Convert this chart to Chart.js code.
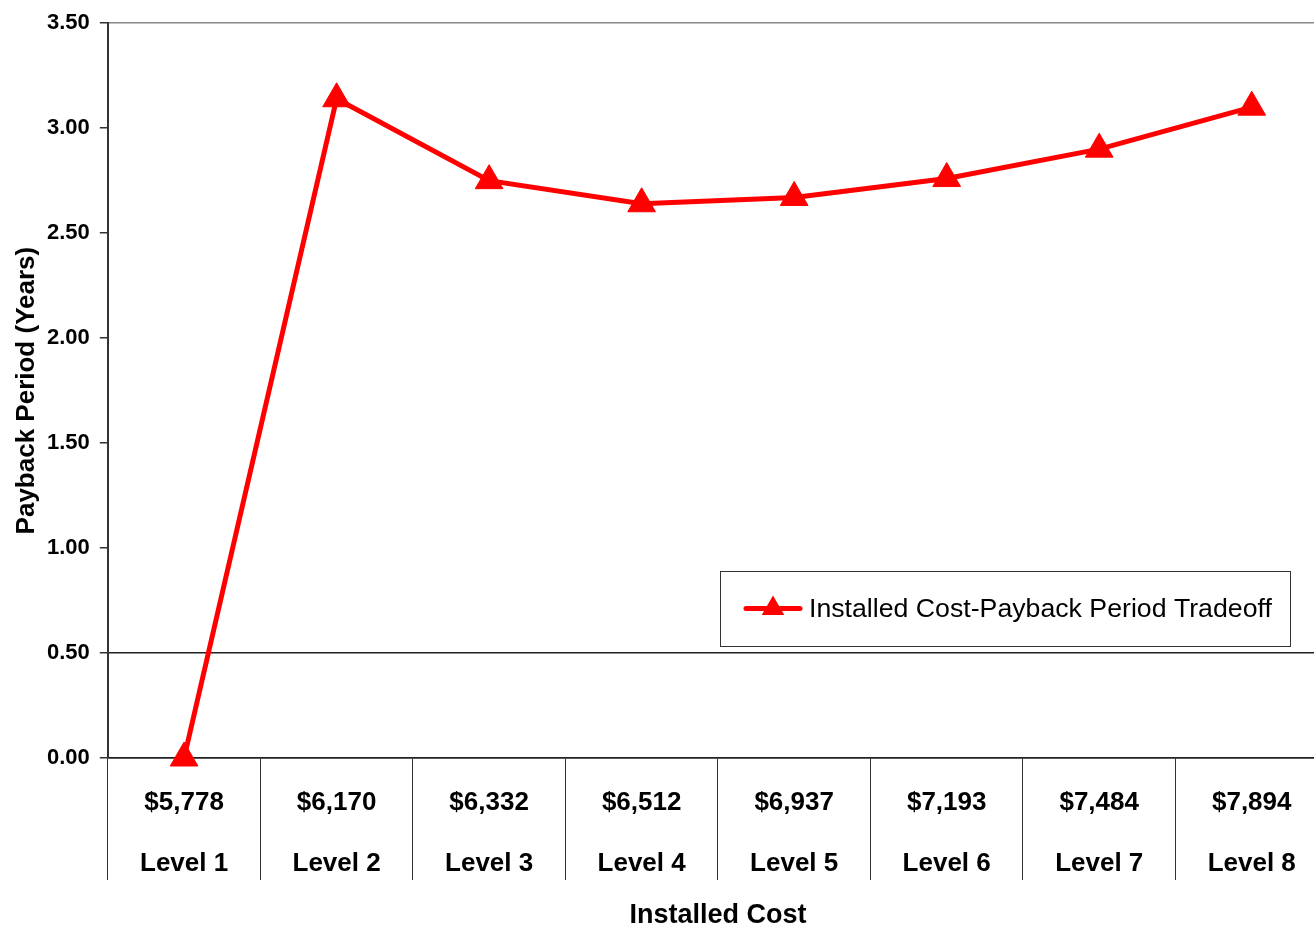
<!DOCTYPE html>
<html lang="en">
<head>
  <meta charset="UTF-8">
  <title>Installed Cost-Payback Period Tradeoff</title>
  <style>
    body {
      margin: 0;
      overflow: hidden;
      background: #fff;
      font-family: 'Liberation Sans', Arial, sans-serif;
    }
    canvas {
      display: block;  /* plot runs a bit past the right edge, like the original */
    }
  </style>
  <script src="https://cdn.jsdelivr.net/npm/chart.js"></script>
</head>
<body>
  <canvas id="tradeoffChart" width="1330" height="929"></canvas>

  <script>
    // data
    const costs = ['$5,778', '$6,170', '$6,332', '$6,512', '$6,937', '$7,193', '$7,484', '$7,894'];
    const levels = ['Level 1', 'Level 2', 'Level 3', 'Level 4', 'Level 5', 'Level 6', 'Level 7', 'Level 8'];
    const payback = [0.00, 3.14, 2.75, 2.64, 2.67, 2.76, 2.90, 3.10];
    const yMin = 0, yMax = 3.5, yStep = 0.5;

    const seriesLabel = 'Installed Cost-Payback Period Tradeoff';
    const FONT = "'Liberation Sans', Arial, sans-serif";

    // two-line category labels: cost over level
    const labels = costs.map((c, i) => [c, levels[i]]);

    // legend drawn inside the plot, boxed, like the Excel one
    const insideLegend = {
      id: 'insideLegend',
      afterDatasetsDraw(chart, args, opts) {
        const ctx = chart.ctx;
        const ds = chart.data.datasets[0];
        const x0 = opts.left;
        const y0 = opts.top;
        ctx.save();
        ctx.fillStyle = '#fff';
        ctx.fillRect(x0, y0, opts.width, opts.height);
        ctx.strokeStyle = '#333';
        ctx.lineWidth = 1;
        ctx.strokeRect(x0 + 0.5, y0 + 0.5, opts.width, opts.height);

        const cy = y0 + opts.height / 2;
        ctx.strokeStyle = ds.borderColor;
        ctx.lineWidth = ds.borderWidth;
        ctx.lineCap = 'round';
        ctx.beginPath();
        ctx.moveTo(x0 + 26, cy);
        ctx.lineTo(x0 + 80, cy);
        ctx.stroke();
        ctx.fillStyle = ds.pointBackgroundColor;
        Chart.helpers.drawPoint(ctx, { pointStyle: 'triangle', radius: 13, borderWidth: 0 }, x0 + 53, cy);

        ctx.fillStyle = '#000';
        ctx.font = '26.7px ' + FONT;
        ctx.textBaseline = 'middle';
        ctx.textAlign = 'left';
        ctx.fillText(ds.label, x0 + 89, cy + 1);
        ctx.restore();
      }
    };

    new Chart(document.getElementById('tradeoffChart'), {
      type: 'line',
      data: {
        labels: labels,
        datasets: [{
          label: seriesLabel,
          data: payback,
          borderColor: '#ff0000',
          backgroundColor: '#ff0000',
          borderWidth: 5,
          pointStyle: 'triangle',
          pointRadius: 16,
          pointHoverRadius: 16,
          pointBackgroundColor: '#ff0000',
          pointBorderColor: '#ff0000',
          pointBorderWidth: 1,
          tension: 0,
          clip: false
        }]
      },
      options: {
        responsive: false,
        animation: false,
        layout: {
          autoPadding: false,  // otherwise the marker size eats the right edge
          padding: { top: 22, right: 2, left: 0, bottom: 0 }
        },
        plugins: {
          legend: { display: false },
          tooltip: { enabled: false },
          insideLegend: { left: 720, top: 571, width: 570, height: 75 }
        },
        scales: {
          x: {
            offset: true,
            grid: {
              offset: true,
              drawOnChartArea: false,
              tickLength: 122,
              color: '#333',
              lineWidth: 1
            },
            border: { color: '#222', width: 1.5 },
            ticks: {
              color: '#000',
              padding: -107.5,
              maxRotation: 0,
              autoSkip: false,
              font: { family: FONT, size: 26, weight: 'bold', lineHeight: 61 / 26 }
            },
            title: {
              display: true,
              text: 'Installed Cost',
              color: '#000',
              padding: { top: 115, bottom: 0 },
              font: { family: FONT, size: 27, weight: 'bold', lineHeight: 1 }
            }
          },
          y: {
            min: yMin,
            max: yMax,
            ticks: {
              stepSize: yStep,
              color: '#000',
              padding: 10,
              font: { family: FONT, size: 22, weight: 'bold' },
              callback: v => Number(v).toFixed(2)
            },
            grid: {
              tickLength: 8,
              tickColor: '#333',
              color: c => {
                const v = c.tick ? c.tick.value : null;
                if (v === 3.5) return '#888';
                if (v === 0.5 || v === 0) return '#222';
                return 'rgba(0,0,0,0)';
              },
              lineWidth: 1.5
            },
            border: { color: '#333', width: 2 },
            title: {
              display: true,
              text: 'Payback Period (Years)',
              color: '#000',
              padding: { top: 14, bottom: -3 },
              font: { family: FONT, size: 26, weight: 'bold', lineHeight: 1 }
            }
          }
        }
      },
      plugins: [insideLegend]
    });
  </script>
</body>
</html>
